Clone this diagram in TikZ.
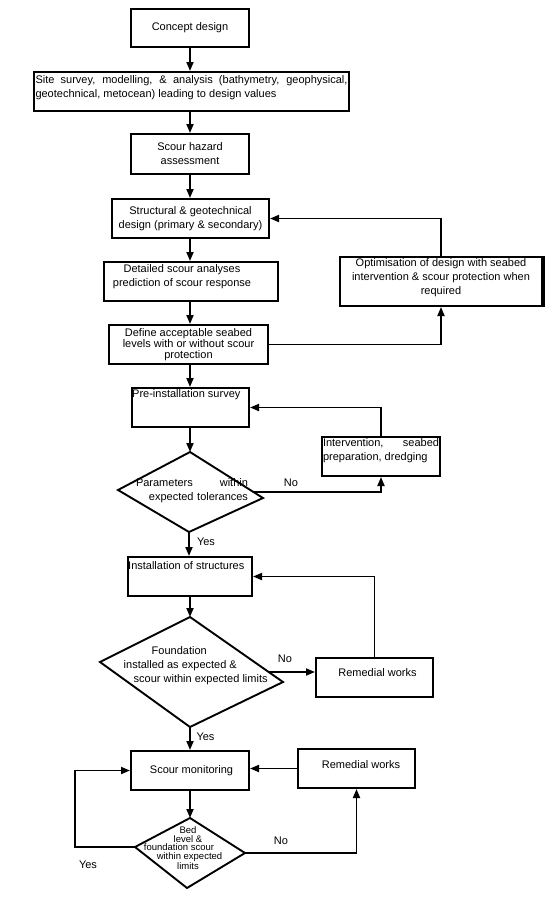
\documentclass[tikz,border=0pt]{standalone}
\usepackage{fontspec}
\setmainfont{Liberation Sans}
\usetikzlibrary{arrows.meta}
\begin{document}
\begin{tikzpicture}[x=1pt,y=-1pt,
  box/.style={draw, line width=2pt, rectangle, inner sep=0pt, align=center, font=\fontsize{11}{14}\selectfont},
  txt/.style={inner sep=0pt, font={\fontsize{11}{14}\selectfont\hyphenpenalty=10000}},
  small/.style={inner sep=0pt, font=\fontsize{9.5}{8.6}\selectfont, align=center},
  conn/.style={line width=1.8pt, -{Triangle[length=9pt,width=7pt]}},
  dia/.style={draw, line width=1.9pt, line join=miter},
  lbl/.style={inner sep=0pt, font=\fontsize{11}{13}\selectfont}]
\useasboundingbox (0,0) rectangle (552,898);
\coordinate (col) at (190,0);

% boxes
\node[box, minimum width=118pt, minimum height=38pt] (concept) at (190,28) {Concept design};
\node[box, minimum width=315pt, minimum height=39pt,
  label={[txt, text width=312pt, align=justify, yshift=4pt]center:Site survey, modelling, \& analysis (bathymetry, geophysical, geotechnical, metocean) leading to design values}] (site) at (191.5,91.5) {};
\node[box, minimum width=118pt, minimum height=40pt] (hazard) at (190,154) {Scour hazard\\assessment};
\node[box, minimum width=157pt, minimum height=39pt] (struct) at (190.5,218.5) {Structural \& geotechnical\\design (primary \& secondary)};
\node[box, minimum width=174pt, minimum height=39pt,
  label={[txt, align=center, xshift=-9pt, yshift=5pt]center:Detailed scour analyses\\prediction of scour response}] (detail) at (191,281.5) {};
\node[box, minimum width=159pt, minimum height=39pt, font=\fontsize{11}{11}\selectfont] (define) at (188.5,344.5) {Define acceptable seabed\\levels with or without scour\\protection};
\node[box, minimum width=202pt, minimum height=49pt,
  label={[txt, align=center, yshift=4pt, font=\fontsize{11}{14}\selectfont]center:Optimisation of design with seabed\\intervention \& scour protection when\\required}] (opt) at (441,281.5) {};
\draw[line width=3pt] (opt.north east) -- (opt.south east);
\node[box, minimum width=117pt, minimum height=39pt,
  label={[txt, anchor=west, xshift=1pt, yshift=13pt]west:Pre-installation survey}] (pre) at (190.5,407.5) {};
\node[box, minimum width=118pt, minimum height=39pt,
  label={[txt, text width=116pt, align=justify, yshift=5.5pt]center:Intervention, seabed preparation, dredging}] (interv) at (381,456.5) {};
\node[box, minimum width=124pt, minimum height=39pt,
  label={[txt, anchor=west, xshift=1pt, yshift=11pt]west:Installation of structures}] (inst) at (190,576.5) {};
\node[box, minimum width=117pt, minimum height=39pt,
  label={[txt, xshift=3pt, yshift=4.5pt]center:Remedial works}] (rem2) at (374.5,677.5) {};
\node[box, minimum width=118pt, minimum height=39pt] (scour) at (190,770.5) {\hspace*{3pt}Scour monitoring};
\node[box, minimum width=117pt, minimum height=39pt,
  label={[txt, xshift=4.5pt, yshift=3.5pt]center:Remedial works}] (rem3) at (356.5,768.5) {};

% decision 1
\coordinate (d1t) at (190,452); \coordinate (d1r) at (263,498);
\coordinate (d1b) at (189,532); \coordinate (d1l) at (118,490);
\draw[dia] (d1t) -- (d1r) -- (d1b) -- (d1l) -- cycle;
\node[txt, text width=112pt, align=right] (d1txt) at (192,491) {\makebox[112pt]{Parameters\hfill within}\\expected tolerances};

% decision 2
\coordinate (d2t) at (190,617); \coordinate (d2r) at (283,682);
\coordinate (d2b) at (190,727); \coordinate (d2l) at (100,662);
\draw[dia] (d2t) -- (d2r) -- (d2b) -- (d2l) -- cycle;
\node[txt, align=left, anchor=west] (d2txt) at (123.5,666) {\hspace*{28pt}Foundation\\installed as expected \&\\\hspace*{10pt}scour within expected limits};

% decision 3
\coordinate (d3t) at (190,818); \coordinate (d3r) at (245,853);
\coordinate (d3b) at (187,888); \coordinate (d3l) at (135,847);
\draw[dia] (d3t) -- (d3r) -- (d3b) -- (d3l) -- cycle;
\node[small] (d3txt) at (188,848) {Bed\\level \&\\foundation scour\hspace*{18pt}\mbox{}\\\hspace*{3pt}within expected\\limits};

% main column
\draw[conn] (concept.south -| col) -- (site.north -| col);
\draw[conn] (site.south -| col) -- (hazard.north -| col);
\draw[conn] (hazard.south -| col) -- (struct.north -| col);
\draw[conn] (struct.south -| col) -- (detail.north -| col);
\draw[conn] (detail.south -| col) -- (define.north -| col);
\draw[conn] (define.south -| col) -- (pre.north -| col);
\draw[conn] (pre.south -| d1t) -- (d1t);
\draw[conn] (d1b) -- (d1b |- inst.north);
\draw[conn] (inst.south -| d2t) -- (d2t);
\draw[conn] (d2b) -- (d2b |- scour.north);
\draw[conn] (scour.south -| d3t) -- (d3t);

% loops
\draw[conn] (opt.north) |- (struct.east);
\draw[conn] (define.east) -| (opt.south);
\draw[conn] (interv.north) |- (pre.east);
\coordinate (d1o) at (253.5,492);
\draw[conn] (d1o) -| (interv.south);
\draw[conn] (rem2.north) |- (inst.east);
\coordinate (d2o) at (268.5,672);
\draw[conn] (d2o) -- (d2o -| rem2.west);
\draw[conn] (rem3.west) -- (rem3.west -| scour.east);
\coordinate (loopx) at (75,800);
\draw[conn] (d3l) -- (d3l -| loopx) |- (scour.west);
\draw[conn] (d3r) -| (rem3.south);

% labels
\node[lbl] (no1) at (291,483) {No};
\node[lbl] (yes1) at (206,542) {Yes};
\node[lbl] (no2) at (285,659) {No};
\node[lbl] (yes2) at (205.5,737) {Yes};
\node[lbl] (no3) at (281,841) {No};
\node[lbl] (yes3) at (88,865) {Yes};
\end{tikzpicture}
\end{document}
